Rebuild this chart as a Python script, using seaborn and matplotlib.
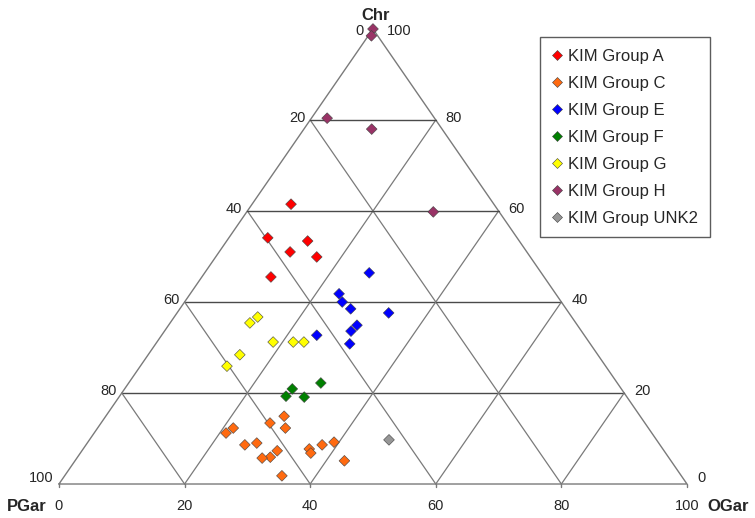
import numpy as np
import pandas as pd
import matplotlib.pyplot as plt
import seaborn as sns

# Ternary compositions (%): Chr = top corner, OGar = bottom right, PGar = rest
chr_a = [61.5, 54.1, 53.4, 51.0, 49.9, 45.5]
ogar_a = [6.2, 6.2, 12.9, 11.3, 16.1, 11.0]

chr_c = [14.9, 13.4, 12.3, 12.3, 11.2, 8.6, 9.0, 7.3, 5.9, 5.7, 7.7, 6.8, 8.6, 9.2, 5.1, 1.8]
ogar_c = [28.4, 26.9, 21.6, 29.9, 21.0, 25.3, 27.0, 31.1, 30.7, 29.5, 36.0, 36.7, 37.6, 39.2, 42.9, 34.6]

chr_e = [46.4, 41.8, 40.0, 38.5, 37.6, 34.9, 33.6, 32.7, 30.8]
ogar_e = [26.2, 23.7, 25.1, 27.2, 33.7, 30.0, 29.7, 24.7, 30.9]

chr_f = [22.2, 20.9, 19.3, 19.1]
ogar_f = [30.6, 26.7, 26.5, 29.5]

chr_g = [36.7, 35.4, 31.2, 31.2, 31.2, 28.4, 25.9]
ogar_g = [13.3, 12.7, 18.5, 21.7, 23.4, 14.6, 13.8]

chr_h = [100.0, 98.5, 80.4, 78.0, 59.8]
ogar_h = [0.0, 0.5, 2.5, 10.8, 29.7]

chr_unk2 = [9.7]
ogar_unk2 = [47.7]

groups = ["KIM Group A", "KIM Group C", "KIM Group E", "KIM Group F",
          "KIM Group G", "KIM Group H", "KIM Group UNK2"]
colors = ["#ff0000", "#ff6a10", "#0000ff", "#008000", "#ffff00", "#993366", "#969696"]
ticks = [0, 20, 40, 60, 80, 100]

all_chr = [chr_a, chr_c, chr_e, chr_f, chr_g, chr_h, chr_unk2]
all_ogar = [ogar_a, ogar_c, ogar_e, ogar_f, ogar_g, ogar_h, ogar_unk2]


def tern(c, o):
    # ternary -> cartesian (bottom edge 0..100, height 100)
    c = np.asarray(c, dtype=float)
    o = np.asarray(o, dtype=float)
    return o + c / 2, c


rows = []
for g, cs, os_ in zip(groups, all_chr, all_ogar):
    x, y = tern(cs, os_)
    for xi, yi in zip(x, y):
        rows.append({"x": xi, "y": yi, "group": g})
df = pd.DataFrame(rows)

sns.set_style("white")
plt.rcParams["font.family"] = ["Liberation Sans", "DejaVu Sans"]

fig = plt.figure(figsize=(7.55, 5.18), dpi=100)
ax = fig.add_axes([0, 0, 1, 1])
ax.set_xlim(-9.39, 110.83)
ax.set_ylim(-7.47, 106.37)
ax.axis("off")

grid_col = "#7a7a7a"
# triangle outline
ox, oy = tern([0, 0, 100, 0], [0, 100, 0, 0])
ax.plot(ox, oy, color=grid_col, lw=1, zorder=1)

for v in ticks[1:-1]:
    # constant Chr (horizontal)
    x, y = tern([v, v], [0, 100 - v])
    ax.plot(x, y, color="#4a4a4a", lw=1, zorder=1)
    # constant OGar
    x, y = tern([0, 100 - v], [v, v])
    ax.plot(x, y, color=grid_col, lw=0.9, zorder=1)
    # constant PGar
    x, y = tern([0, 100 - v], [100 - v, 0])
    ax.plot(x, y, color=grid_col, lw=0.9, zorder=1)

pt = 0.72  # pixels -> points
for v in ticks:
    # bottom ticks (OGar)
    ax.plot([v, v], [0, -0.7], color=grid_col, lw=1, zorder=1)
    ax.annotate(str(v), (v, 0), xytext=(0, -22 * pt), textcoords="offset points",
                ha="center", va="center", fontsize=10.5)
    # left edge (PGar)
    dy = 6 if v == 0 else 2
    dx = -9 if v == 100 else -5
    if v == 100:
        dy = -2
    x, y = tern([v], [0])
    ax.annotate(str(100 - v), (x[0], y[0]), xytext=(dx * pt, dy * pt), textcoords="offset points",
                ha="right", va="center", fontsize=10.5)
    # right edge (Chr)
    dx = 14 if v == 100 else 10
    x, y = tern([v], [100 - v])
    ax.annotate(str(v), (x[0], y[0]), xytext=(dx * pt, dy * pt), textcoords="offset points",
                ha="left", va="center", fontsize=10.5)

ax.annotate("PGar", (0, 0), xytext=(-32 * pt, -22 * pt), textcoords="offset points",
            ha="center", va="center", fontsize=12, fontweight="bold")
ax.annotate("OGar", (100, 0), xytext=(41 * pt, -22 * pt), textcoords="offset points",
            ha="center", va="center", fontsize=12, fontweight="bold")
ax.annotate("Chr", (50, 100), xytext=(3 * pt, 13 * pt), textcoords="offset points",
            ha="center", va="center", fontsize=12, fontweight="bold")

sns.scatterplot(data=df, x="x", y="y", hue="group", hue_order=groups,
                palette=dict(zip(groups, colors)), marker="D", s=30,
                edgecolor="#404040", linewidth=0.4, ax=ax, zorder=3)

handles, labels = ax.get_legend_handles_labels()
leg = ax.legend(handles, labels, loc="upper left", bbox_to_anchor=(540 / 755, 1 - 37 / 518),
                bbox_transform=fig.transFigure, borderaxespad=0, frameon=True, fancybox=False,
                edgecolor="#333333", fontsize=12, labelspacing=0.72, handlelength=0.6,
                handletextpad=0.4, borderpad=0.7, markerscale=0.9)
leg.get_frame().set_linewidth(1)

fig.savefig("out.png", dpi=100, facecolor="white")
